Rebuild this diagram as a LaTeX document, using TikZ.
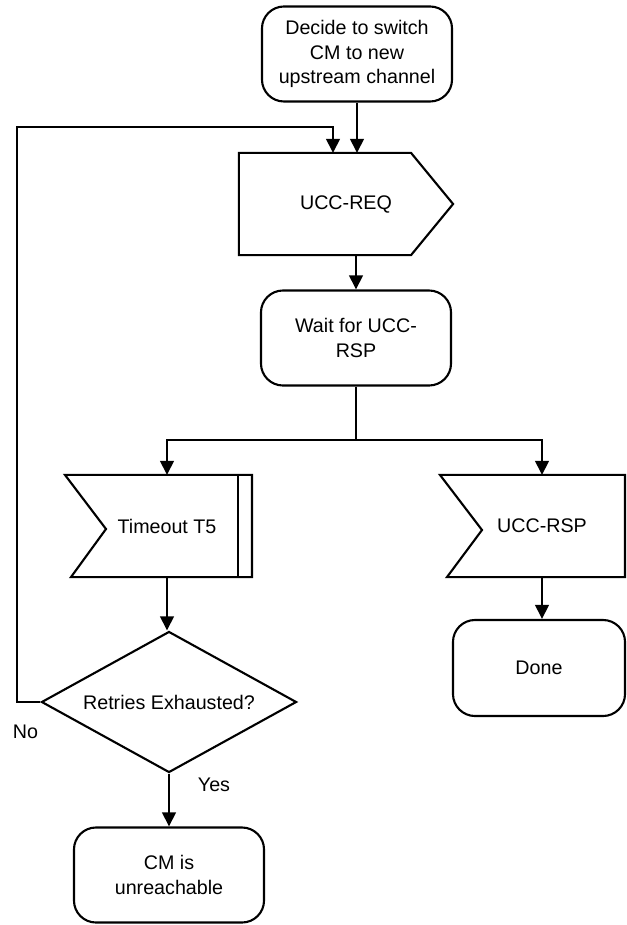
\documentclass[tikz,border=0pt]{standalone}
\usepackage{fontspec}
\setmainfont{Liberation Sans}
\usetikzlibrary{shapes.geometric,arrows.meta,calc,positioning}

\begin{document}
\begin{tikzpicture}[x=0.025cm, y=-0.025cm,
  font=\fontsize{14}{17.5}\selectfont,
  line width=1.5pt,
  box/.style={draw, rounded corners=0.55cm, minimum width=4.75cm, minimum height=2.375cm, align=center, inner sep=2pt},
  sig/.style={minimum height=2.5cm, inner sep=0pt},
  flow/.style={-{Triangle[length=0.35cm, width=0.34cm]}},
  cond/.style={draw, diamond, aspect=1.8, minimum width=6.375cm, minimum height=3.525cm, inner sep=0pt}]
  \useasboundingbox (0,0) rectangle (626,925);

  % states and signals
  \node[box] (start) at (357,54) {Decide to switch\\CM to new\\upstream channel};
  \node[sig, minimum width=5.3cm] (req) at (346,204) {UCC-REQ};
  \node[box] (wait) at (356,338) {Wait for UCC-\\RSP};
  \node[sig] (tmo) at (167,526) {Timeout T5};
  \node[sig] (rsp) at (542,526) {UCC-RSP};
  \node[cond] (dec) at (169,702) {Retries Exhausted?};
  \node[box, minimum width=4.3cm, minimum height=2.4cm] (done) at (539,668) {Done};
  \node[box] (lost) at (169,875) {CM is\\unreachable};

  % signal outlines
  \draw (req.north west) -- ($(req.north east)+(-42,0)$) -- (req.east)
    -- ($(req.south east)+(-42,0)$) -- (req.south west) -- cycle;
  \draw ($(tmo.north)+(-102,0)$) -- ($(tmo.north)+(85,0)$) -- ($(tmo.south)+(85,0)$)
    -- ($(tmo.south)+(-96,0)$) -- ($(tmo)+(-61,3)$) -- cycle;
  \draw ($(tmo.north)+(71,0)$) -- ($(tmo.south)+(71,0)$);
  \draw ($(rsp.north)+(-102,0)$) -- ($(rsp.north)+(83,0)$) -- ($(rsp.south)+(83,0)$)
    -- ($(rsp.south)+(-95,0)$) -- ($(rsp)+(-60,4)$) -- cycle;

  % connectors
  \coordinate (split) at ($(wait.south)+(0,53)$);
  \coordinate (back) at (17,127);
  \draw[flow] (start.south) -- (start.south |- req.north);
  \draw[flow] (wait.north |- req.south) -- (wait.north);
  \draw (wait.south) -- (split);
  \draw[flow] (split) -| (tmo.north);
  \draw[flow] (split) -| (rsp.north);
  \draw[flow] (tmo.south) -- (tmo.south |- dec.north);
  \draw[flow] (rsp.south) -- (rsp.south |- done.north);
  \draw[flow] (dec.south) -- (dec.south |- lost.north);
  \draw[flow] (dec.west) -| (back) -| ($(req.north)+(-13,0)$);

  % branch labels
  \node (no) at ($(dec.west)+(-15,30)$) {No};
  \node (yes) at ($(dec.south)+(45,11)$) {Yes};
\end{tikzpicture}
\end{document}
